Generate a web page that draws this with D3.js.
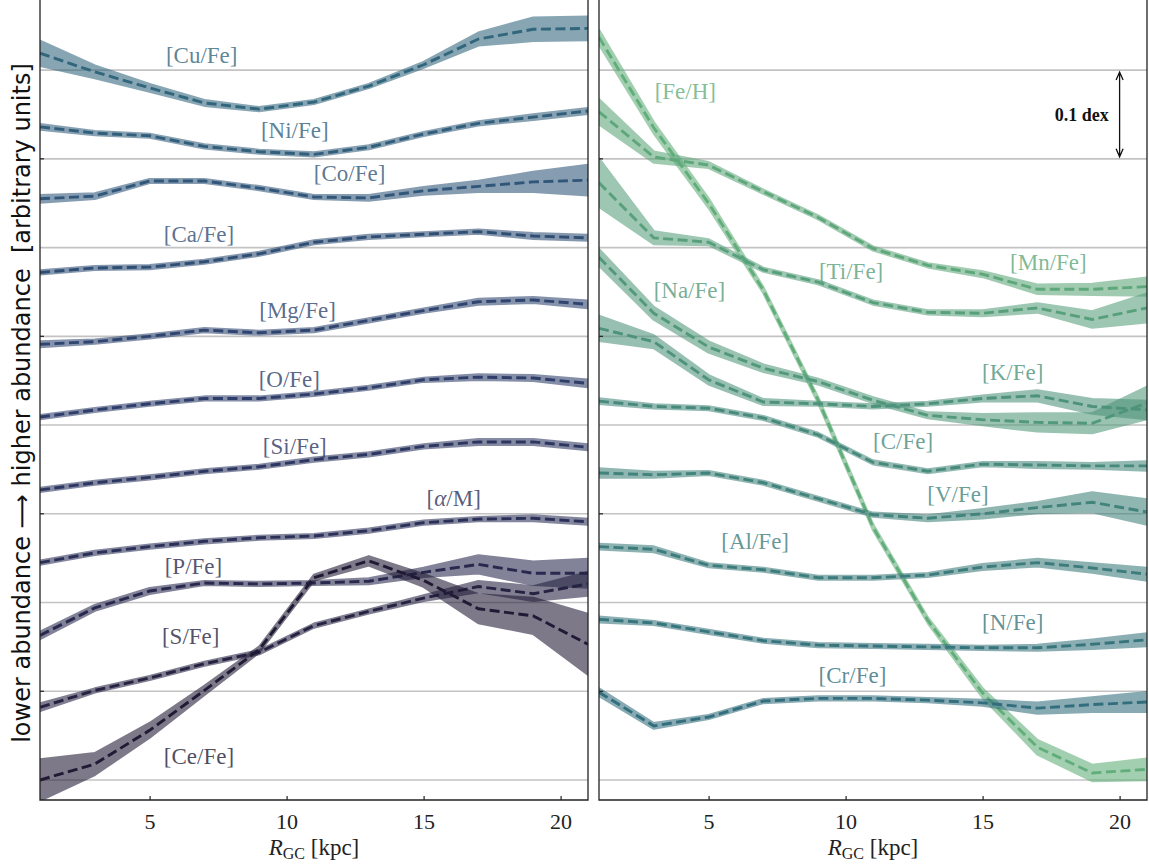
<!DOCTYPE html>
<html>
<meta charset="utf-8">
<style>
body { margin: 0; background: #fff; }
.lbl { font-family: "Liberation Serif", "DejaVu Serif", serif; font-size: 23px; }
.tick text { font-family: "Liberation Serif", serif; font-size: 22px; fill: #222; }
.xlabel { font-family: "Liberation Serif", serif; font-size: 23px; fill: #222; }
.ylabel { font-family: "DejaVu Sans", sans-serif; font-size: 24px; fill: #111; white-space: pre; }
</style>
<head>
<script src="https://d3js.org/d3.v7.min.js"></script>
</head>
<body>
<script>
// galactocentric radius bins [kpc]
var rgc = [1, 3, 5, 7, 9, 11, 13, 15, 17, 19, 21];

// left panel: median trend (offset, dex) and half width of the band
var cuFe = [0.819, 0.798, 0.780, 0.763, 0.756, 0.764, 0.782, 0.806, 0.835, 0.846, 0.847];
var cuFeErr = [0.014, 0.007, 0.004, 0.003, 0.002, 0.002, 0.002, 0.003, 0.007, 0.013, 0.013];
var niFe = [0.736, 0.729, 0.726, 0.714, 0.708, 0.705, 0.713, 0.728, 0.740, 0.747, 0.754];
var niFeErr = [0.003, 0.002, 0.002, 0.002, 0.002, 0.002, 0.002, 0.002, 0.002, 0.003, 0.003];
var coFe = [0.655, 0.658, 0.675, 0.675, 0.667, 0.657, 0.656, 0.664, 0.669, 0.674, 0.676];
var coFeErr = [0.004, 0.003, 0.002, 0.002, 0.002, 0.002, 0.003, 0.004, 0.006, 0.011, 0.017];
var caFe = [0.572, 0.577, 0.578, 0.584, 0.593, 0.606, 0.612, 0.615, 0.618, 0.613, 0.611];
var caFeErr = [0.002, 0.002, 0.002, 0.002, 0.002, 0.002, 0.002, 0.002, 0.002, 0.003, 0.003];
var mgFe = [0.491, 0.494, 0.500, 0.507, 0.504, 0.507, 0.518, 0.529, 0.539, 0.541, 0.536];
var mgFeErr = [0.003, 0.002, 0.002, 0.002, 0.002, 0.002, 0.002, 0.002, 0.003, 0.003, 0.004];
var oFe = [0.409, 0.417, 0.424, 0.430, 0.430, 0.435, 0.442, 0.451, 0.454, 0.453, 0.447];
var oFeErr = [0.002, 0.002, 0.002, 0.002, 0.002, 0.002, 0.002, 0.002, 0.003, 0.003, 0.004];
var siFe = [0.327, 0.335, 0.341, 0.348, 0.353, 0.361, 0.367, 0.376, 0.381, 0.381, 0.375];
var siFeErr = [0.002, 0.002, 0.002, 0.002, 0.002, 0.002, 0.002, 0.002, 0.003, 0.003, 0.003];
var alphaM = [0.245, 0.256, 0.263, 0.269, 0.273, 0.275, 0.281, 0.290, 0.294, 0.295, 0.291];
var alphaMErr = [0.002, 0.002, 0.002, 0.002, 0.002, 0.002, 0.002, 0.002, 0.002, 0.003, 0.003];
var pFe = [0.163, 0.194, 0.213, 0.222, 0.221, 0.222, 0.224, 0.234, 0.243, 0.233, 0.233];
var pFeErr = [0.004, 0.003, 0.003, 0.002, 0.002, 0.002, 0.003, 0.005, 0.010, 0.013, 0.016];
var sFe = [0.082, 0.101, 0.115, 0.131, 0.144, 0.174, 0.190, 0.205, 0.218, 0.210, 0.221];
var sFeErr = [0.004, 0.002, 0.002, 0.002, 0.002, 0.002, 0.002, 0.003, 0.006, 0.008, 0.013];
var ceFe = [0.000, 0.018, 0.056, 0.101, 0.147, 0.228, 0.247, 0.225, 0.193, 0.185, 0.153];
var ceFeErr = [0.023, 0.012, 0.008, 0.005, 0.003, 0.003, 0.005, 0.007, 0.016, 0.020, 0.034];

// right panel
var feH = [0.837, 0.735, 0.650, 0.552, 0.428, 0.285, 0.180, 0.098, 0.037, 0.008, 0.012];
var feHErr = [0.008, 0.006, 0.005, 0.003, 0.003, 0.003, 0.003, 0.005, 0.008, 0.009, 0.012];
var mnFe = [0.753, 0.702, 0.693, 0.663, 0.634, 0.599, 0.580, 0.570, 0.553, 0.553, 0.556];
var mnFeErr = [0.014, 0.006, 0.003, 0.002, 0.002, 0.002, 0.002, 0.003, 0.005, 0.006, 0.010];
var tiFe = [0.673, 0.611, 0.606, 0.575, 0.561, 0.538, 0.527, 0.526, 0.532, 0.519, 0.532];
var tiFeErr = [0.027, 0.007, 0.003, 0.002, 0.002, 0.002, 0.002, 0.003, 0.005, 0.009, 0.016];
var naFe = [0.589, 0.526, 0.488, 0.464, 0.449, 0.428, 0.411, 0.406, 0.403, 0.402, 0.425];
var naFeErr = [0.009, 0.007, 0.006, 0.004, 0.003, 0.003, 0.003, 0.006, 0.010, 0.011, 0.018];
var kFe = [0.509, 0.494, 0.451, 0.426, 0.424, 0.421, 0.424, 0.430, 0.433, 0.421, 0.417];
var kFeErr = [0.014, 0.007, 0.005, 0.003, 0.002, 0.002, 0.002, 0.003, 0.006, 0.008, 0.010];
var cFe = [0.427, 0.421, 0.419, 0.408, 0.389, 0.358, 0.348, 0.356, 0.355, 0.354, 0.354];
var cFeErr = [0.003, 0.002, 0.002, 0.002, 0.002, 0.002, 0.002, 0.002, 0.003, 0.003, 0.005];
var vFe = [0.346, 0.344, 0.346, 0.335, 0.317, 0.299, 0.295, 0.300, 0.307, 0.313, 0.302];
var vFeErr = [0.005, 0.003, 0.002, 0.002, 0.002, 0.002, 0.003, 0.005, 0.006, 0.011, 0.014];
var alFe = [0.263, 0.260, 0.242, 0.237, 0.228, 0.228, 0.231, 0.240, 0.245, 0.239, 0.232];
var alFeErr = [0.003, 0.003, 0.002, 0.002, 0.002, 0.002, 0.002, 0.003, 0.004, 0.005, 0.007];
var nFe = [0.181, 0.177, 0.167, 0.157, 0.152, 0.151, 0.150, 0.149, 0.149, 0.153, 0.158];
var nFeErr = [0.003, 0.002, 0.002, 0.002, 0.002, 0.002, 0.002, 0.002, 0.003, 0.005, 0.007];
var crFe = [0.099, 0.061, 0.071, 0.089, 0.092, 0.092, 0.090, 0.087, 0.081, 0.085, 0.088];
var crFeErr = [0.004, 0.003, 0.002, 0.002, 0.002, 0.002, 0.002, 0.003, 0.006, 0.008, 0.011];

var leftNames = ["[Cu/Fe]", "[Ni/Fe]", "[Co/Fe]", "[Ca/Fe]", "[Mg/Fe]", "[O/Fe]", "[Si/Fe]", "[α/M]", "[P/Fe]", "[S/Fe]", "[Ce/Fe]"];
var leftMed = [cuFe, niFe, coFe, caFe, mgFe, oFe, siFe, alphaM, pFe, sFe, ceFe];
var leftErr = [cuFeErr, niFeErr, coFeErr, caFeErr, mgFeErr, oFeErr, siFeErr, alphaMErr, pFeErr, sFeErr, ceFeErr];

var rightNames = ["[Fe/H]", "[Mn/Fe]", "[Ti/Fe]", "[Na/Fe]", "[K/Fe]", "[C/Fe]", "[V/Fe]", "[Al/Fe]", "[N/Fe]", "[Cr/Fe]"];
var rightMed = [feH, mnFe, tiFe, naFe, kFe, cFe, vFe, alFe, nFe, crFe];
var rightErr = [feHErr, mnFeErr, tiFeErr, naFeErr, kFeErr, cFeErr, vFeErr, alFeErr, nFeErr, crFeErr];

// where each label sits (kpc, dex)
var labelPos = {
  "[Cu/Fe]": [6.9, 0.817], "[Ni/Fe]": [10.3, 0.732], "[Co/Fe]": [12.3, 0.684],
  "[Ca/Fe]": [6.8, 0.615], "[Mg/Fe]": [10.4, 0.530], "[O/Fe]": [10.1, 0.452],
  "[Si/Fe]": [10.3, 0.376], "[α/M]": [16.1, 0.318], "[P/Fe]": [6.6, 0.241],
  "[S/Fe]": [6.5, 0.162], "[Ce/Fe]": [6.8, 0.027],
  "[Fe/H]": [4.15, 0.776], "[Mn/Fe]": [17.4, 0.584], "[Ti/Fe]": [10.2, 0.574],
  "[Na/Fe]": [4.3, 0.552], "[K/Fe]": [16.1, 0.460], "[C/Fe]": [12.1, 0.382],
  "[V/Fe]": [14.1, 0.322], "[Al/Fe]": [6.7, 0.269], "[N/Fe]": [16.1, 0.178],
  "[Cr/Fe]": [10.25, 0.118]
};

var gridLevels = [0, 0.1, 0.2, 0.3, 0.4, 0.5, 0.6, 0.7, 0.8];
var yTicks = [0.1, 0.3, 0.5, 0.7];
var xTicks = [5, 10, 15, 20];

var width = 1149, height = 865;
var panelW = 548, panelH = 800;

var x = d3.scaleLinear().domain([1, 21]).range([0, panelW]);
var y = d3.scaleLinear().domain([-0.0225, 0.879]).range([panelH, 0]);

// light green -> teal -> dark navy, one colour per element
var color = d3.scaleLinear()
    .domain([0, 9, 12, 15, 18, 20])
    .range(["#62ae7a", "#326e7d", "#30567a", "#2e3d69", "#29294f", "#201a35"])
    .interpolate(d3.interpolateRgb);

var svg = d3.select("body").append("svg")
    .attr("width", width)
    .attr("height", height)
    .style("font-family", "Liberation Serif");

var area = d3.area()
    .x(function(d) { return x(d.r); })
    .y0(function(d) { return y(d.m - d.e); })
    .y1(function(d) { return y(d.m + d.e); });

var line = d3.line()
    .x(function(d) { return x(d.r); })
    .y(function(d) { return y(d.m); });

function drawPanel(x0, id, names, meds, errs, colorOffset) {
  var g = svg.append("g").attr("transform", "translate(" + x0 + ",0)");

  g.append("clipPath").attr("id", id)
    .append("rect").attr("width", panelW).attr("height", panelH);

  g.selectAll(".grid")
      .data(gridLevels)
    .enter().append("line")
      .attr("class", "grid")
      .attr("x1", 0).attr("x2", panelW)
      .attr("y1", function(d) { return y(d); })
      .attr("y2", function(d) { return y(d); })
      .attr("stroke", "#c3c3c3")
      .attr("stroke-width", 1.6);

  var plot = g.append("g").attr("clip-path", "url(#" + id + ")");

  names.forEach(function(name, k) {
    var c = color(k + colorOffset);
    var rows = rgc.map(function(r, i) { return {r: r, m: meds[k][i], e: errs[k][i]}; });

    plot.append("g")
        .attr("opacity", 0.58)
      .append("path")
        .datum(rows)
        .attr("d", area)
        .attr("fill", c)
        .attr("stroke", c)
        .attr("stroke-width", 2.6)
        .attr("stroke-linejoin", "round");

    plot.append("path")
        .datum(rows)
        .attr("d", line)
        .attr("fill", "none")
        .attr("stroke", c)
        .attr("stroke-width", 2.9)
        .attr("stroke-dasharray", "10,4.5");
  });

  names.forEach(function(name, k) {
    var p = labelPos[name];
    var t = g.append("text")
        .attr("class", "lbl")
        .attr("x", x(p[0]))
        .attr("y", y(p[1]))
        .attr("dy", "0.35em")
        .attr("text-anchor", "middle")
        .attr("fill", color(k + colorOffset))
        .attr("fill-opacity", 0.8);
    if (name == "[α/M]") {
      t.append("tspan").text("[");
      t.append("tspan").attr("font-style", "italic").text("α");
      t.append("tspan").text("/M]");
    } else {
      t.text(name);
    }
  });

  // ticks (pointing inward)
  g.selectAll(".ytick")
      .data(yTicks)
    .enter().append("line")
      .attr("x1", 0).attr("x2", 4)
      .attr("y1", function(d) { return y(d); })
      .attr("y2", function(d) { return y(d); })
      .attr("stroke", "#222").attr("stroke-width", 1.2);

  var xAxis = g.append("g")
      .attr("transform", "translate(0," + panelH + ")")
      .call(d3.axisBottom(x).tickValues(xTicks).tickSize(-4).tickPadding(13));
  xAxis.select(".domain").remove();
  xAxis.selectAll(".tick line").attr("stroke", "#222").attr("stroke-width", 1.2);
  xAxis.selectAll(".tick text").attr("font-family", null).attr("font-size", null);

  // spines
  g.append("path")
      .attr("d", "M0,-2V" + panelH + "H" + panelW + "V-2")
      .attr("fill", "none")
      .attr("stroke", "#222")
      .attr("stroke-width", 1.3);

  var xl = g.append("text")
      .attr("class", "xlabel")
      .attr("x", panelW / 2)
      .attr("y", 855)
      .attr("text-anchor", "middle");
  xl.append("tspan").attr("font-style", "italic").text("R");
  xl.append("tspan").attr("font-size", "16px").attr("dy", 4).text("GC");
  xl.append("tspan").attr("dy", -4).text(" [kpc]");

  return g;
}

drawPanel(40, "clipL", leftNames, leftMed, leftErr, 10);
var right = drawPanel(599, "clipR", rightNames, rightMed, rightErr, 0);

// 0.1 dex scale bar
var barX = x(20), barTop = y(0.8) + 2, barBot = y(0.7) - 2;
right.append("path")
    .attr("d", "M" + barX + "," + barTop + "V" + barBot +
               "M" + (barX - 3.5) + "," + (barTop + 8) + "L" + barX + "," + barTop + "L" + (barX + 3.5) + "," + (barTop + 8) +
               "M" + (barX - 3.5) + "," + (barBot - 8) + "L" + barX + "," + barBot + "L" + (barX + 3.5) + "," + (barBot - 8))
    .attr("fill", "none")
    .attr("stroke", "#111")
    .attr("stroke-width", 1.3);

right.append("text")
    .attr("x", x(19.6))
    .attr("y", y(0.75))
    .attr("dy", "0.35em")
    .attr("text-anchor", "end")
    .attr("font-family", "Liberation Serif")
    .attr("font-weight", "bold")
    .attr("font-size", "18px")
    .attr("fill", "#111")
    .text("0.1 dex");

svg.append("text")
    .attr("class", "ylabel")
    .attr("transform", "translate(30,403) rotate(-90)")
    .attr("text-anchor", "middle")
    .text("lower abundance \u27F6 higher abundance  [arbitrary units]");
</script>
</body>
</html>
